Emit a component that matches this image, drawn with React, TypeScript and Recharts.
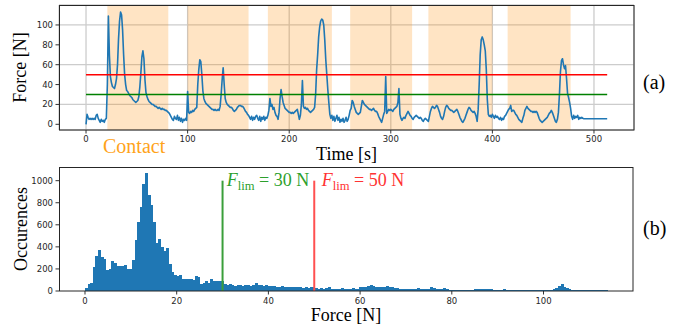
import {
  LineChart,
  Line,
  BarChart,
  Bar,
  XAxis,
  YAxis,
  CartesianGrid,
  ReferenceArea,
  ReferenceLine,
} from "recharts";

// force signal, one sample per second (t = 0 .. 513 s)
const forceValues = [
  0, 10, 7, 5, 6, 5, 6, 5, 6, 5,
  9, 10, 6, 4, 2, 5, 3, 4, 2, 5,
  6, 40, 109, 70, 48, 42, 38, 37, 36, 40,
  46, 60, 86, 104, 113, 110, 95, 70, 50, 40,
  34, 33, 31, 29, 28, 27, 25, 24, 23, 22,
  23, 24, 28, 38, 52, 68, 74, 66, 45, 32,
  28, 25, 23, 22, 21, 20, 20, 19, 18, 18,
  17, 16, 17, 16, 15, 16, 15, 15, 14, 14,
  13, 12, 11, 9, 7, 5, 4, 8, 6, 5,
  9, 4, 7, 3, 6, 2, 5, 4, 6, 4,
  33, 12, 11, 13, 12, 14, 13, 15, 16, 17,
  40, 55, 65, 63, 50, 34, 26, 23, 21, 20,
  19, 18, 17, 16, 15, 15, 14, 15, 14, 14,
  15, 14, 18, 30, 45, 57, 40, 26, 22, 20,
  19, 18, 17, 17, 16, 14, 13, 14, 15, 17,
  18, 19, 19, 18, 18, 17, 15, 13, 12, 10,
  9, 7, 5, 8, 4, 7, 5, 8, 9, 6,
  4, 8, 3, 7, 5, 8, 4, 7, 6, 9,
  14, 26, 18, 20, 15, 17, 12, 9, 8, 5,
  12, 26, 35, 28, 22, 19, 16, 15, 14, 13,
  12, 12, 11, 12, 11, 12, 13, 14, 15, 10,
  5, 9, 20, 44, 18, 16, 17, 15, 16, 14,
  13, 12, 13, 14, 15, 17, 30, 55, 70, 88,
  98, 104, 106, 105, 100, 85, 65, 50, 35, 22,
  10, 6, 9, 4, 8, 3, 6, 9, 4, 7,
  2, 5, 3, 6, 2, 4, 7, 3, 5, 9,
  14, 16, 24, 22, 18, 15, 12, 11, 10, 11,
  12, 18, 24, 22, 20, 19, 18, 17, 16, 15,
  15, 14, 15, 16, 14, 13, 13, 11, 8, 6,
  4, 2, 6, 10, 13, 48, 11, 13, 15, 14,
  15, 14, 13, 15, 16, 17, 18, 22, 36, 10,
  6, 4, 6, 7, 6, 9, 11, 13, 11, 9,
  8, 6, 5, 7, 8, 9, 8, 7, 6, 7,
  6, 4, 3, 5, 6, 5, 4, 3, 8, 13,
  16, 18, 17, 16, 17, 19, 18, 15, 12, 8,
  6, 5, 8, 13, 17, 19, 18, 16, 15, 14,
  14, 13, 12, 13, 14, 15, 13, 10, 7, 5,
  3, 2, 4, 6, 9, 12, 15, 17, 16, 14,
  13, 12, 13, 11, 8, 3, 15, 40, 70, 85,
  88, 85, 80, 74, 55, 25, 10, 8, 9, 7,
  10, 8, 6, 9, 7, 8, 6, 5, 7, 4,
  6, 5, 8, 9, 11, 13, 15, 16, 19, 13,
  14, 14, 12, 10, 9, 7, 5, 4, 3, 2,
  6, 9, 14, 16, 18, 16, 15, 14, 13, 13,
  12, 13, 12, 13, 12, 9, 6, 4, 3, 2,
  3, 4, 5, 6, 7, 9, 11, 12, 14, 12,
  9, 6, 3, 2, 5, 12, 30, 53, 64, 66,
  60, 56, 59, 46, 31, 27, 22, 16, 8, 5,
  9, 6, 8, 7, 9, 5, 7, 6, 7, 6,
  5.6, 5.6, 5.6, 5.6, 5.6, 5.6, 5.6, 5.6, 5.6, 5.6,
  5.6, 5.6, 5.6, 5.6, 5.6, 5.6, 5.6, 5.6, 5.6, 5.6,
  5.6, 5.6, 5.6, 5.6,
];
const sampleStep = 1;

const contactStart = [21, 100, 179, 260, 337, 415];
const contactEnd = [81, 160, 242, 321, 400, 477];

const timeTicks = [0, 100, 200, 300, 400, 500];
const forceTicks = [0, 20, 40, 60, 80, 100];
const limitLow = 30;
const limitHigh = 50;
const signalEnd = 513;

// histogram of force, 200 bins of 0.57 N
const histCounts = [
  24, 63, 72, 217, 317, 371, 305, 290, 190, 199,
  272, 251, 227, 227, 227, 236, 199, 199, 281, 462,
  622, 761, 970, 1072, 870, 782, 628, 438, 471, 402,
  362, 387, 242, 172, 148, 136, 145, 109, 109, 109,
  109, 100, 136, 130, 63, 76, 91, 70, 109, 88,
  91, 91, 91, 63, 54, 60, 57, 48, 52, 55,
  48, 50, 52, 46, 56, 72, 58, 50, 47, 55,
  44, 42, 46, 40, 38, 45, 36, 35, 38, 33,
  36, 34, 35, 31, 33, 30, 34, 32, 30, 22,
  25, 20, 24, 33, 22, 18, 21, 19, 30, 22,
  20, 17, 24, 18, 20, 35, 36, 40, 45, 50,
  47, 40, 38, 36, 33, 42, 38, 34, 30, 27,
  22, 18, 20, 18, 17, 19, 18, 30, 22, 18,
  17, 19, 32, 25, 18, 15, 20, 28, 20, 9,
  7, 6, 8, 5, 6, 7, 5, 8, 8, 17,
  19, 18, 17, 18, 16, 17, 12, 9, 8, 10,
  14, 8, 7, 9, 6, 10, 8, 6, 12, 7,
  9, 8, 6, 10, 7, 8, 6, 12, 9, 18,
  30, 45, 63, 40, 24, 14, 10, 8, 12, 9,
  7, 10, 8, 6, 9, 7, 8, 6, 9, 5,
];
const binWidth = 0.57;
const histForceTicks = [0, 20, 40, 60, 80, 100];
const countTicks = [0, 200, 400, 600, 800, 1000];

const timeData = forceValues.map((f, i) => ({ t: i * sampleStep, f }));
const histData = histCounts.map((n, i) => ({ x: (i + 0.5) * binWidth, n }));

const tickStyle = { fontSize: 8.5, fill: "#262626", fontFamily: "DejaVu Sans" };
const serif = "'Liberation Serif', 'Times New Roman', serif";

const Flim = ({ x, value, color }: { x: number; value: number; color: string }) => (
  <text x={x} y={185.7} fill={color} fontSize={18} fontFamily={serif}>
    <tspan fontStyle="italic">F</tspan>
    <tspan fontSize={12.6} dy={4}>lim</tspan>
    <tspan dy={-4}>{` = ${value} N`}</tspan>
  </text>
);

// histogram bin, snapped to pixels so neighbouring bins leave no seams
const HistBin = (p: any) => {
  if (!p.height || p.height <= 0) return <g />;
  return (
    <rect
      x={p.x}
      y={p.y}
      width={p.width + 0.4}
      height={p.height}
      fill="#1f77b4"
      shapeRendering="crispEdges"
    />
  );
};

const App = () => {
  return (
    <div style={{ position: "absolute", left: 0, top: 0, width: 680, height: 330, background: "#fff" }}>
      <div style={{ position: "absolute", left: 0, top: 0 }}>
        <LineChart
          width={680}
          height={160}
          data={timeData}
          margin={{ top: 5, right: 46, bottom: 0, left: 0 }}
        >
          <CartesianGrid stroke="#cccccc" strokeWidth={1.3} />
          <XAxis
            type="number"
            dataKey="t"
            domain={[-26.6, 539.4]}
            ticks={timeTicks}
            allowDataOverflow
            height={30}
            axisLine={false}
            tickSize={3.5}
            tickMargin={2.5}
            tickLine={{ stroke: "#333" }}
            tick={tickStyle}
          />
          <YAxis
            type="number"
            domain={[-5.74, 120.1]}
            ticks={forceTicks}
            allowDataOverflow
            width={59}
            axisLine={false}
            tickSize={3.5}
            tickMargin={2.5}
            tickLine={{ stroke: "#333" }}
            tick={tickStyle}
          />
          {contactStart.map((s, i) => (
            <ReferenceArea
              key={i}
              x1={s}
              x2={contactEnd[i]}
              fill="#ff8c00"
              fillOpacity={0.23}
              stroke="none"
            />
          ))}
          <Line
            type="linear"
            dataKey="f"
            stroke="#1f77b4"
            strokeWidth={1.6}
            strokeLinejoin="round"
            dot={false}
            isAnimationActive={false}
          />
          <ReferenceLine
            segment={[{ x: 0, y: limitHigh }, { x: signalEnd, y: limitHigh }]}
            stroke="#ff0000"
            strokeWidth={1.5}
          />
          <ReferenceLine
            segment={[{ x: 0, y: limitLow }, { x: signalEnd, y: limitLow }]}
            stroke="#008000"
            strokeWidth={1.5}
          />
        </LineChart>
      </div>
      <div style={{ position: "absolute", left: 0, top: 162 }}>
        <BarChart
          width={680}
          height={159}
          data={histData}
          margin={{ top: 5, right: 47, bottom: 0, left: 0 }}
        >
          <XAxis
            type="number"
            dataKey="x"
            domain={[-5.67, 119.52]}
            ticks={histForceTicks}
            allowDataOverflow
            height={30}
            axisLine={false}
            tickSize={3.5}
            tickMargin={3.5}
            tickLine={{ stroke: "#333" }}
            tick={tickStyle}
          />
          <YAxis
            type="number"
            domain={[0, 1124]}
            ticks={countTicks}
            allowDataOverflow
            width={59}
            axisLine={false}
            tickSize={3.5}
            tickMargin={2.5}
            tickLine={{ stroke: "#333" }}
            tick={tickStyle}
          />
          <Bar
            dataKey="n"
            fill="#1f77b4"
            barSize={2.6}
            shape={HistBin}
            isAnimationActive={false}
          />
          <ReferenceLine
            segment={[{ x: limitLow, y: 0 }, { x: limitLow, y: 1000 }]}
            stroke="#3a9f3a"
            strokeWidth={2}
          />
          <ReferenceLine
            segment={[{ x: limitHigh, y: 0 }, { x: limitHigh, y: 1000 }]}
            stroke="#ff5050"
            strokeWidth={2}
          />
        </BarChart>
      </div>
      <svg
        width={680}
        height={330}
        style={{ position: "absolute", left: 0, top: 0, pointerEvents: "none" }}
        fontFamily={serif}
      >
        <rect x={59.5} y={5.5} width={574.5} height={124.5} fill="none" stroke="#262626" strokeWidth={1} />
        <rect x={59.5} y={167.5} width={573.5} height={123.5} fill="none" stroke="#262626" strokeWidth={1} />
        <text x={26} y={67.5} transform="rotate(-90 26 67.5)" textAnchor="middle" fontSize={18} fontFamily={serif}>
          Force [N]
        </text>
        <text x={346.5} y={159.5} textAnchor="middle" fontSize={18} fontFamily={serif}>
          Time [s]
        </text>
        <text x={103} y={153} fontSize={20} fill="#ffa31a" fontFamily={serif}>
          Contact
        </text>
        <text x={643} y={88.5} fontSize={20} fontFamily={serif}>
          (a)
        </text>
        <text x={26.5} y={229} transform="rotate(-90 26.5 229)" textAnchor="middle" fontSize={18} fontFamily={serif}>
          Occurences
        </text>
        <text x={346} y={321} textAnchor="middle" fontSize={18} fontFamily={serif}>
          Force [N]
        </text>
        <text x={643} y={234.5} fontSize={20} fontFamily={serif}>
          (b)
        </text>
        <Flim x={226.7} value={limitLow} color="#2ca02c" />
        <Flim x={321.7} value={limitHigh} color="#ff3333" />
      </svg>
    </div>
  );
};

export default App;
